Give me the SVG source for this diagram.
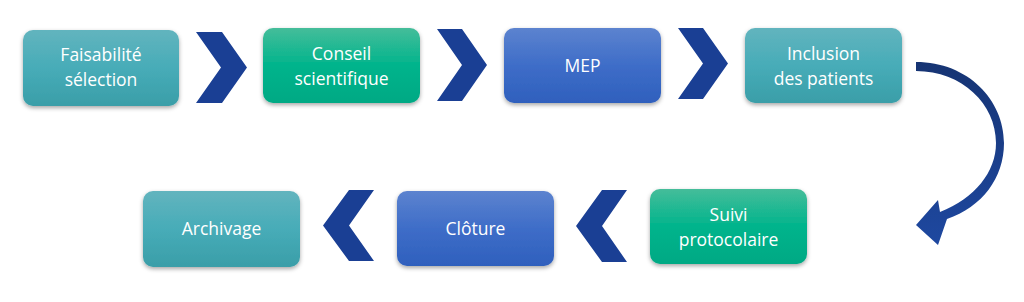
<svg xmlns="http://www.w3.org/2000/svg" width="1024" height="302" viewBox="0 0 1024 302">
<defs>
<linearGradient id="gTeal" x1="0" y1="0" x2="0" y2="1"><stop offset="0" stop-color="#62b4be"/><stop offset="0.5" stop-color="#47acb8"/><stop offset="1" stop-color="#3a9ea8"/></linearGradient>
<linearGradient id="gGreen" x1="0" y1="0" x2="0" y2="1"><stop offset="0" stop-color="#45bd9a"/><stop offset="0.5" stop-color="#00b48c"/><stop offset="1" stop-color="#00a984"/></linearGradient>
<linearGradient id="gBlue" x1="0" y1="0" x2="0" y2="1"><stop offset="0" stop-color="#5c83cf"/><stop offset="0.5" stop-color="#3e6dc8"/><stop offset="1" stop-color="#2f60bd"/></linearGradient>
<linearGradient id="gCurve" x1="0" y1="0" x2="0" y2="1"><stop offset="0" stop-color="#163473"/><stop offset="1" stop-color="#1e48a0"/></linearGradient>
<filter id="sh" x="-10%" y="-10%" width="120%" height="130%"><feDropShadow dx="0" dy="2" stdDeviation="2" flood-color="#000" flood-opacity="0.35"/></filter>
</defs>
<style>
.box{filter:url(#sh)}
.t{fill:#ffffff;font-family:"Open Sans","Liberation Sans",sans-serif;font-size:17.5px;text-anchor:middle}
.chev{fill:#1a3f94}
</style>
<g id="n1"><rect class="box" x="23" y="30" width="156" height="76" rx="10" fill="url(#gTeal)"/><text class="t" x="101" y="61">Faisabilité</text><text class="t" x="101" y="86">sélection</text></g>
<g id="n2"><rect class="box" x="263" y="28" width="157" height="75" rx="10" fill="url(#gGreen)"/><text class="t" x="341.5" y="59.5">Conseil</text><text class="t" x="341.5" y="84.5">scientifique</text></g>
<g id="n3"><rect class="box" x="504" y="28" width="157" height="75" rx="10" fill="url(#gBlue)"/><text class="t" x="582.5" y="72">MEP</text></g>
<g id="n4"><rect class="box" x="745" y="28" width="157" height="75" rx="10" fill="url(#gTeal)"/><text class="t" x="823.5" y="59.5">Inclusion</text><text class="t" x="823.5" y="84.5">des patients</text></g>
<g id="n5"><rect class="box" x="650" y="189" width="157" height="75" rx="10" fill="url(#gGreen)"/><text class="t" x="728.5" y="220.5">Suivi</text><text class="t" x="728.5" y="245.5">protocolaire</text></g>
<g id="n6"><rect class="box" x="397" y="191" width="157" height="75" rx="10" fill="url(#gBlue)"/><text class="t" x="475.5" y="234.5">Clôture</text></g>
<g id="n7"><rect class="box" x="143" y="191" width="157" height="76" rx="10" fill="url(#gTeal)"/><text class="t" x="221.5" y="234.5">Archivage</text></g>
<g id="connectors">
<polygon class="chev" points="196,32 222,32 247,67.5 222,103 196,103 221,67.5"/>
<polygon class="chev" points="437,29 462,29 487,65 462,101 437,101 462,65"/>
<polygon class="chev" points="678,28 703,28 728,63.5 703,99 678,99 703,63.5"/>
<polygon class="chev" points="627,190 602,190 576,226 602,262 627,262 602,226"/>
<polygon class="chev" points="374,190 349,190 323,225.5 349,261 374,261 349,225.5"/>
<path fill="url(#gCurve)" d="M916,62 C968,62 1004,100 1004,143 C1004,178 982,207 947,219 L938,245 L916,225 L938,200 L940,212 C975,198 996,172 996,143 C996,104 962,71 916,71 Z"/>
</g>
</svg>
